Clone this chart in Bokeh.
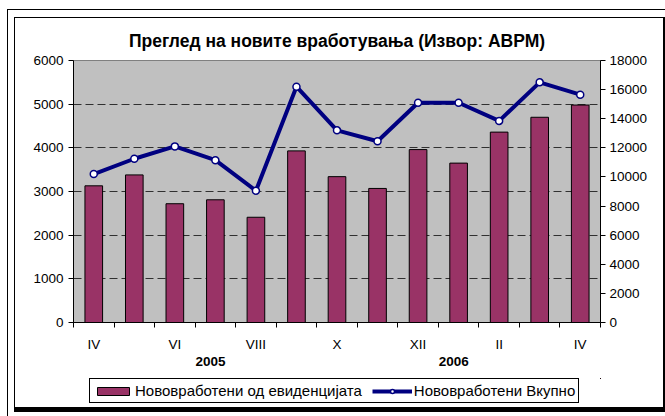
from bokeh.plotting import figure
from bokeh.layouts import column
from bokeh.models import (Range1d, LinearAxis, FixedTicker, Legend, LegendItem, Grid)
from bokeh.embed import file_html
from bokeh.resources import INLINE

# ---- data ----
months = ["IV", "V", "VI", "VII", "VIII", "IX", "X", "XI", "XII", "I", "II", "III", "IV"]
years = ["2005", "2006"]
year_pos = [3.38, 9.38]
from_register = [3130, 3380, 2720, 2810, 2410, 3930, 3340, 3070, 3960, 3650, 4360, 4700, 4980]
total_new = [10200, 11250, 12100, 11150, 9050, 16200, 13200, 12450, 15100, 15100, 13850, 16500, 15650]
left_ticks = [0, 1000, 2000, 3000, 4000, 5000, 6000]
right_ticks = [0, 2000, 4000, 6000, 8000, 10000, 12000, 14000, 16000, 18000]
title_text = "Преглед на новите вработувања (Извор: АВРМ)"
bar_label = "Нововработени од евиденцијата"
line_label = "Нововработени Вкупно"

FONT = "Liberation Sans"
FS = "13.5px"
n = len(months)
xs = [i + 0.5 for i in range(n)]

W = 665
FL, FT, FW, FH = 73, 60, 527, 262   # plot area in canvas px
BOT = 56                              # room for the two category rows
H1 = FT + FH + BOT                    # main figure height
H2 = 416 - H1                         # legend strip height

BAR_STYLE = dict(width=0.435, fill_color="#993366", line_color="black", line_width=1)
LINE_STYLE = dict(line_color="#000080", line_width=4)
PT_STYLE = dict(size=7, marker="circle", fill_color="white", line_color="#000080", line_width=1.5)

p = figure(width=W, height=H1, output_backend="svg", toolbar_location=None,
           x_range=Range1d(0, n), y_range=Range1d(0, 6000),
           min_border_left=FL, min_border_right=W - FL - FW,
           min_border_top=FT, min_border_bottom=BOT,
           background_fill_color="#C0C0C0", border_fill_color=None,
           outline_line_color="#808080", x_axis_type=None, y_axis_type=None)
p.extra_y_ranges = {"right": Range1d(0, 18000)}

# chart-area frame (outer rule, bordered box with drop shadow) drawn with CSS
p.styles = {"background-color": "white", "box-shadow": ", ".join([
    "inset 7px 0 0 0 white", "inset 0 9px 0 0 white",
    "inset 8px 0 0 0 black", "inset 0 10px 0 0 black",
    "inset 14px 0 0 0 white", "inset 0 17px 0 0 white",
    "inset 15px 0 0 0 black", "inset 0 18px 0 0 black",
    "inset -2px 0 0 0 black"])}

# title
p.title.text = title_text
p.title.align = "center"
p.title.offset = 4
p.title.text_font = FONT
p.title.text_font_size = "17.5px"
p.title.text_font_style = "bold"
p.title.text_color = "black"
p.title.standoff = 20

# axes
ax_l = LinearAxis(ticker=FixedTicker(ticks=left_ticks))
ax_r = LinearAxis(y_range_name="right", ticker=FixedTicker(ticks=right_ticks))
for ax in (ax_l, ax_r):
    ax.major_tick_out = 5
    ax.major_tick_in = 0
    ax.minor_tick_line_color = None
    ax.axis_line_color = "black"
    ax.major_tick_line_color = "black"
    ax.major_label_text_font = FONT
    ax.major_label_text_font_size = FS
    ax.major_label_text_color = "black"
ax_l.major_label_standoff = 5
ax_r.major_label_standoff = 4
p.add_layout(ax_l, "left")
p.add_layout(ax_r, "right")

lab_idx = list(range(0, n, 2))
ax_b = LinearAxis(ticker=FixedTicker(ticks=[xs[i] for i in lab_idx],
                                     minor_ticks=list(range(n + 1))))
ax_b.major_label_overrides = {xs[i]: months[i] for i in lab_idx}
ax_b.major_tick_line_color = None
ax_b.major_tick_out = 0
ax_b.major_tick_in = 0
ax_b.minor_tick_out = 5
ax_b.minor_tick_in = 0
ax_b.minor_tick_line_color = "black"
ax_b.axis_line_color = "black"
ax_b.major_label_standoff = 9
ax_b.major_label_text_font = FONT
ax_b.major_label_text_font_size = FS
ax_b.major_label_text_color = "black"
p.add_layout(ax_b, "below")

ax_y = LinearAxis(ticker=FixedTicker(ticks=year_pos, minor_ticks=[]))
ax_y.major_label_overrides = dict(zip(year_pos, years))
ax_y.axis_line_color = None
ax_y.major_tick_line_color = None
ax_y.minor_tick_line_color = None
ax_y.major_tick_out = 0
ax_y.major_tick_in = 0
ax_y.major_label_standoff = 2
ax_y.major_label_text_font = FONT
ax_y.major_label_text_font_size = FS
ax_y.major_label_text_font_style = "bold"
ax_y.major_label_text_color = "black"
p.add_layout(ax_y, "below")

g = Grid(dimension=1, ticker=FixedTicker(ticks=left_ticks[1:-1]),
         grid_line_color="#303030", grid_line_dash="8 4", grid_line_width=1)
p.add_layout(g)

# bars & line
p.vbar(x=xs, top=from_register, **BAR_STYLE)
p.line(x=xs, y=total_new, y_range_name="right", **LINE_STYLE)
p.scatter(x=xs, y=total_new, y_range_name="right", **PT_STYLE)

# legend strip (its own small canvas so the legend is not clipped);
# the legend keys use the same series, kept outside this strip's visible range
lf = figure(width=W, height=H2, output_backend="svg", toolbar_location=None,
            x_range=Range1d(-20, -19), y_range=Range1d(-20, -19),
            min_border=0, background_fill_color=None, border_fill_color=None,
            outline_line_color=None, x_axis_type=None, y_axis_type=None)
lb = lf.vbar(x=xs, top=from_register, **BAR_STYLE)
ll = lf.line(x=xs, y=total_new, **LINE_STYLE)
lp = lf.scatter(x=xs, y=total_new, **PT_STYLE)
lf.styles = {"background-color": "white", "box-shadow": ", ".join([
    "inset 7px 0 0 0 white", "inset 8px 0 0 0 black",
    "inset 0 -4px 0 0 white",
    "inset 14px 0 0 0 white", "inset 15px 0 0 0 black",
    "inset -2px 0 0 0 black", "inset 0 -9px 0 0 black"])}

leg = Legend(items=[LegendItem(label=bar_label, renderers=[lb]),
                    LegendItem(label=line_label, renderers=[ll, lp])],
             orientation="horizontal", location=(16, H2 - 25),
             glyph_width=40, glyph_height=10, label_height=14, padding=3,
             label_standoff=2, spacing=10, margin=0,
             border_line_color="black", border_line_width=1, border_line_alpha=1,
             background_fill_color="white", background_fill_alpha=1,
             label_text_font=FONT, label_text_font_size="15px", label_text_color="black")
lf.add_layout(leg, "center")

layout = column(p, lf, spacing=0)
open("out.html", "w").write(file_html(layout, INLINE))
